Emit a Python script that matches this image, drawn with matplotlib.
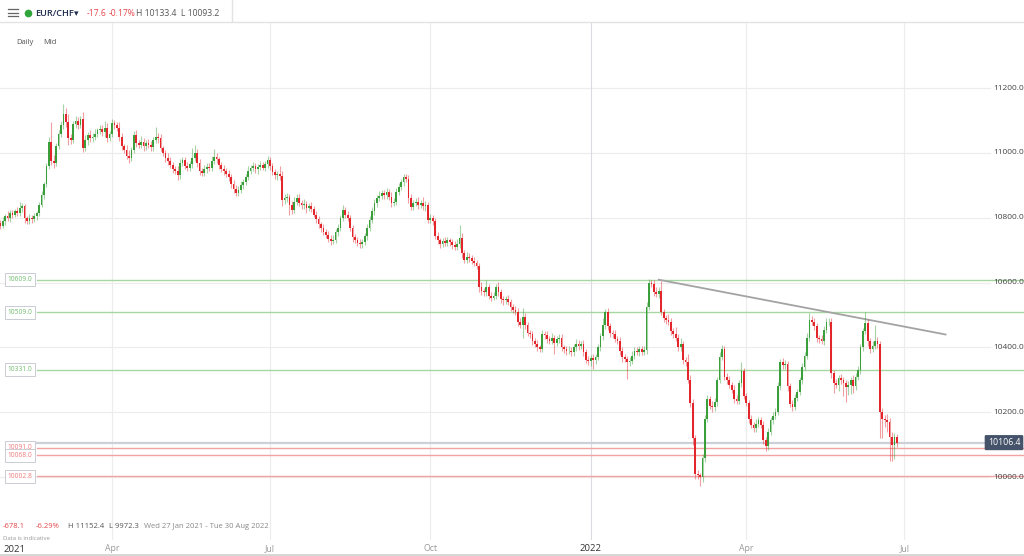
import matplotlib
matplotlib.use("Agg")
import matplotlib.pyplot as plt
from matplotlib.lines import Line2D
import numpy as np
import pandas as pd

plt.rcParams["font.family"] = ["Open Sans", "DejaVu Sans"]

W, H = 1024, 556

# EUR/CHF daily (mid), prices x10000
START = "2021-01-27"
first_open = 10784.5
closes = [
    10775, 10790, 10805, 10800, 10815, 10810, 10820, 10815, 10830, 10835,
    10800, 10790, 10800, 10795, 10805, 10815, 10840, 10870, 10905, 10960,
    11035, 10975, 10970, 11020, 11060, 11085, 11120, 11095, 11045, 11040,
    11090, 11100, 11085, 11105, 11015, 11040, 11055, 11045, 11050, 11060,
    11070, 11075, 11065, 11078, 11045, 11060, 11092, 11085, 11078, 11050,
    11020, 11010, 10990, 10985, 11010, 11055, 11030, 11025, 11035, 11020,
    11030, 11025, 11018, 11040, 11050, 11045, 11015, 11000, 10985, 10975,
    10963, 10950, 10945, 10932, 10970, 10978, 10960, 10955, 10965, 10985,
    11000, 10970, 10945, 10938, 10950, 10958, 10955, 10975, 10988, 10980,
    10963, 10950, 10945, 10935, 10925, 10905, 10890, 10877, 10885, 10900,
    10910, 10925, 10945, 10954, 10960, 10950, 10958, 10962, 10955, 10965,
    10978, 10960, 10940, 10932, 10935, 10928, 10855, 10860, 10865, 10840,
    10825, 10850, 10862, 10845, 10838, 10842, 10830, 10836, 10828, 10810,
    10795, 10780, 10770, 10755, 10748, 10735, 10728, 10732, 10755, 10770,
    10800, 10825, 10810, 10800, 10770, 10740, 10732, 10722, 10718, 10725,
    10745, 10770, 10794, 10820, 10846, 10860, 10868, 10876, 10870, 10880,
    10865, 10846, 10850, 10880, 10895, 10910, 10926, 10920, 10860, 10834,
    10845, 10849, 10840, 10845, 10835, 10840, 10794, 10800, 10790, 10745,
    10730, 10720, 10728, 10722, 10730, 10725, 10715, 10711, 10720, 10738,
    10690, 10670, 10680, 10675, 10668, 10660, 10650, 10585, 10575, 10570,
    10585, 10560, 10554, 10560, 10588, 10570, 10548, 10545, 10550, 10540,
    10525, 10517, 10510, 10480, 10470, 10495, 10470, 10445, 10440, 10420,
    10410, 10400, 10395, 10440, 10438, 10425, 10420, 10430, 10415, 10425,
    10430, 10400, 10394, 10388, 10390, 10385, 10400, 10412, 10405, 10410,
    10385, 10362, 10358, 10368, 10360, 10372, 10400, 10434, 10470, 10508,
    10465, 10445, 10440, 10425, 10420, 10390, 10370, 10365, 10354, 10358,
    10375, 10390, 10385, 10395, 10387, 10392, 10525, 10600, 10595, 10570,
    10565, 10575, 10508, 10490, 10486, 10480, 10450, 10440, 10430, 10400,
    10410, 10360, 10355, 10300, 10230, 10120, 10010, 10005, 10000, 10060,
    10180, 10240, 10220, 10215, 10232, 10300, 10370, 10394, 10310, 10300,
    10285, 10270, 10240, 10235, 10290, 10326, 10250, 10230, 10180, 10160,
    10150, 10165, 10175, 10160, 10115, 10095, 10140, 10175, 10190, 10200,
    10280, 10354, 10345, 10350, 10280, 10225, 10215, 10245, 10262, 10300,
    10340, 10375, 10430, 10486, 10480, 10465, 10430, 10425, 10420, 10455,
    10477, 10480, 10320, 10290, 10285, 10305, 10300, 10290, 10278, 10285,
    10300, 10280, 10310, 10330, 10400, 10450, 10475, 10420, 10395, 10405,
    10420, 10410, 10200, 10180, 10175, 10170, 10125, 10100, 10124, 10106.4,
]
# wick length above max(open, close) and below min(open, close)
up_wick = [
    8, 12, 6, 15, 9, 10, 7, 14, 18, 11,
    9, 6, 12, 8, 10, 7, 9, 12, 6, 10,
    14, 60, 20, 10, 12, 15, 32, 18, 25, 12,
    10, 15, 12, 8, 20, 14, 9, 16, 11, 13,
    8, 10, 12, 20, 15, 9, 14, 10, 12, 16,
    11, 8, 14, 20, 9, 12, 15, 10, 18, 12,
    9, 14, 11, 10, 30, 12, 15, 8, 10, 14,
    12, 9, 10, 16, 12, 8, 11, 13, 9, 30,
    25, 12, 10, 9, 14, 11, 10, 16, 24, 12,
    9, 10, 13, 8, 11, 9, 12, 10, 14, 12,
    10, 11, 15, 9, 12, 10, 8, 13, 11, 9,
    14, 10, 9, 12, 10, 25, 15, 12, 10, 9,
    11, 14, 10, 12, 9, 15, 10, 11, 13, 9,
    12, 10, 8, 11, 9, 10, 12, 14, 10, 11,
    10, 13, 9, 12, 10, 8, 11, 9, 12, 10,
    9, 11, 10, 13, 12, 9, 15, 11, 10, 12,
    9, 14, 10, 12, 11, 9, 10, 9, 12, 14,
    10, 12, 15, 9, 20, 11, 10, 12, 9, 10,
    12, 9, 10, 14, 11, 9, 10, 12, 14, 40,
    14, 10, 16, 12, 9, 10, 11, 12, 18, 9,
    22, 10, 11, 12, 9, 14, 10, 12, 9, 11,
    10, 9, 12, 11, 10, 28, 12, 10, 9, 11,
    10, 12, 9, 14, 11, 12, 10, 15, 9, 11,
    10, 12, 9, 11, 14, 10, 12, 15, 11, 10,
    12, 9, 11, 10, 13, 9, 10, 12, 20, 12,
    15, 11, 10, 14, 9, 12, 10, 11, 9, 12,
    14, 10, 12, 11, 9, 13, 14, 10, 9, 12,
    15, 10, 30, 12, 11, 18, 10, 9, 24, 12,
    20, 10, 12, 25, 14, 10, 9, 12, 8, 10,
    12, 14, 10, 16, 12, 10, 15, 14, 12, 10,
    11, 9, 14, 12, 10, 30, 12, 10, 9, 12,
    10, 14, 11, 9, 12, 10, 13, 11, 10, 12,
    14, 10, 12, 11, 9, 10, 14, 12, 11, 10,
    12, 10, 14, 20, 12, 10, 11, 9, 12, 10,
    15, 12, 10, 9, 12, 11, 14, 10, 9, 12,
    10, 14, 11, 12, 10, 9, 35, 12, 10, 14,
    50, 12, 10, 14, 12, 20, 11, 15, 12, 9.4,
]
dn_wick = [
    10, 8, 12, 9, 14, 10, 8, 11, 9, 12,
    15, 10, 8, 12, 9, 11, 10, 8, 12, 9,
    10, 12, 15, 10, 9, 12, 10, 14, 20, 12,
    10, 14, 11, 9, 12, 10, 15, 10, 12, 9,
    11, 10, 12, 15, 10, 9, 12, 11, 10, 14,
    12, 10, 9, 15, 11, 10, 12, 9, 10, 14,
    10, 9, 12, 11, 10, 13, 9, 10, 12, 11,
    9, 12, 10, 14, 11, 10, 9, 12, 10, 11,
    10, 12, 14, 9, 10, 12, 11, 10, 9, 12,
    11, 10, 12, 9, 10, 14, 12, 11, 10, 9,
    12, 10, 9, 11, 10, 12, 14, 10, 9, 11,
    10, 12, 9, 11, 14, 10, 20, 12, 10, 30,
    12, 10, 11, 9, 10, 12, 14, 10, 11, 9,
    12, 10, 14, 9, 11, 10, 12, 9, 10, 12,
    10, 11, 12, 9, 10, 14, 11, 9, 12, 10,
    9, 12, 10, 11, 10, 12, 9, 10, 11, 12,
    10, 12, 9, 10, 11, 9, 12, 10, 14, 11,
    10, 9, 12, 11, 10, 14, 10, 9, 12, 11,
    10, 12, 11, 9, 10, 12, 11, 10, 9, 12,
    14, 10, 9, 12, 11, 10, 9, 14, 12, 10,
    12, 11, 10, 9, 12, 10, 11, 14, 10, 9,
    12, 10, 11, 14, 9, 40, 12, 10, 11, 12,
    10, 12, 9, 10, 11, 12, 10, 9, 35, 12,
    10, 11, 12, 10, 9, 12, 11, 10, 12, 9,
    11, 10, 12, 14, 25, 10, 12, 11, 10, 12,
    10, 12, 11, 9, 10, 12, 14, 10, 50, 12,
    10, 11, 9, 12, 10, 11, 12, 10, 9, 12,
    10, 12, 9, 11, 14, 10, 12, 11, 10, 12,
    10, 11, 12, 9, 14, 20, 15, 12, 28, 14,
    12, 10, 11, 14, 10, 12, 9, 10, 11, 12,
    10, 12, 11, 10, 9, 12, 10, 11, 14, 10,
    12, 10, 11, 9, 12, 14, 10, 11, 12, 10,
    9, 12, 10, 11, 14, 10, 12, 9, 11, 10,
    12, 11, 10, 9, 12, 10, 14, 11, 10, 12,
    10, 12, 14, 30, 11, 20, 12, 40, 45, 25,
    30, 20, 12, 10, 11, 12, 10, 14, 12, 10,
    11, 12, 80, 60, 20, 30, 75, 50, 45, 13.2,
]

axis_prices = [10000, 10200, 10400, 10600, 10800, 11000, 11200]
month_dates = ["2021-04-01", "2021-07-01", "2021-10-01", "2022-01-03", "2022-04-01", "2022-07-01"]
month_labels = ["Apr", "Jul", "Oct", "2022", "Apr", "Jul"]

levels = [10609.0, 10509.0, 10331.0, 10091.0, 10068.0, 10002.8]
level_side = ["up", "up", "up", "down", "down", "down"]
last_price = 10106.4
trend_dates = ["2022-02-10", "2022-07-26"]
trend_prices = [10609.0, 10440.0]

GREEN, RED = "#3a9e3a", "#e3262b"
LVL_GREEN, LVL_RED = "#a6d7a0", "#f2a2a2"


def fx(x):
    return x / W


def fy(y):
    return 1 - y / H


fig = plt.figure(figsize=(W / 100, H / 100), dpi=100)
ax = fig.add_axes([0, fy(540), 1, (540 - 22) / H])
for s in ax.spines.values():
    s.set_visible(False)
ax.set_xticks([])
ax.set_yticks([])

closes = np.array(closes, dtype=float)
opens = np.r_[first_open, closes[:-1]]
hi = np.maximum(opens, closes) + np.array(up_wick)
lo = np.minimum(opens, closes) - np.array(dn_wick)
idx = np.arange(len(closes))
rise = closes >= opens

calendar = pd.bdate_range(START, periods=460)
month_pos = [calendar.searchsorted(pd.Timestamp(d)) for d in month_dates]
trend_pos = [calendar.searchsorted(pd.Timestamp(d)) for d in trend_dates]

# px per trading day ~2.43, axis runs to roughly end of August
ax.set_xlim(-0.1, 421.3)
ax.set_ylim(9806, 11404)

# grid
for p in axis_prices:
    ax.axhline(p, xmin=0, xmax=990 / W, color="#ececec", lw=0.8, zorder=0)
    ax.text(fx(993), p, f"{p:.1f}", transform=ax.get_yaxis_transform(),
            ha="left", va="center", fontsize=6, color="#444444")
for pos, lab in zip(month_pos, month_labels):
    ax.axvline(pos, color="#d9dbe0" if lab == "2022" else "#ececec", lw=0.8, zorder=0)

# support / resistance levels
for lv, side in zip(levels, level_side):
    c = LVL_GREEN if side == "up" else LVL_RED
    tc = "#6dbb6d" if side == "up" else "#ee7b7b"
    ax.axhline(lv, xmin=37 / W, xmax=1, color=c, lw=1.0, zorder=1)
    ax.text(fx(20), lv, f"{lv:.1f}", transform=ax.get_yaxis_transform(),
            ha="center", va="center", fontsize=4.8, color=tc, zorder=6,
            bbox=dict(boxstyle="square,pad=0.45", fc="white", ec="#c9cdd3", lw=0.7))

# last price line + tag
ax.axhline(last_price, xmin=37 / W, xmax=986 / W, color="#ccd0d8", lw=1.6, zorder=1)
ax.text(fx(1004), last_price, f"{last_price:.1f}", transform=ax.get_yaxis_transform(),
        ha="center", va="center", fontsize=6.3, color="white", zorder=7,
        bbox=dict(boxstyle="round,pad=0.35,rounding_size=0.15", fc="#45536a", ec="none"))

# trend line
ax.plot(trend_pos, trend_prices, color="#a3a3a3", lw=1.3, zorder=2)

# candles
col = np.where(rise, GREEN, RED)
ax.vlines(idx, lo, hi, colors=col, lw=0.8, alpha=0.45, zorder=3)
body_lo = np.minimum(opens, closes)
body_h = np.maximum(np.abs(closes - opens), 2.5)
ax.bar(idx, body_h, bottom=body_lo, width=0.72, color=col, lw=0, zorder=4)

# header bar
fig.add_artist(Line2D([0, 1], [fy(22), fy(22)], transform=fig.transFigure, color="#e3e3e3", lw=1))
fig.add_artist(Line2D([fx(232), fx(232)], [fy(0), fy(21)], transform=fig.transFigure, color="#e3e3e3", lw=1))
for yy in (9, 12.5, 16):
    fig.add_artist(Line2D([fx(8), fx(18)], [fy(yy), fy(yy)], transform=fig.transFigure,
                          color="#666666", lw=0.9))
fig.add_artist(Line2D([fx(28)], [fy(13)], transform=fig.transFigure, marker="o",
                      ms=4.5, color="#2ea43a", lw=0))
fig.text(fx(35), fy(13), "EUR/CHF", fontsize=6.6, fontweight="semibold", color="#1f2e4f", va="center")
fig.text(fx(74), fy(13.5), "▾", fontsize=6.5, color="#1f2e4f", va="center",
         family=["DejaVu Sans"])
fig.text(fx(87), fy(13), "-17.6", fontsize=6.2, color="#e5484d", va="center")
fig.text(fx(109), fy(13), "-0.17%", fontsize=6.2, color="#e5484d", va="center")
fig.text(fx(136), fy(13), "H 10133.4  L 10093.2", fontsize=6.2, color="#555555", va="center")
fig.text(fx(16), fy(43), "Daily", fontsize=5.5, color="#555555", va="center")
fig.text(fx(43), fy(43), "Mid", fontsize=5.5, color="#555555", va="center")

# footer stats
fig.text(fx(3), fy(526), "-678.1", fontsize=5.5, color="#e5484d", va="center")
fig.text(fx(36), fy(526), "-6.29%", fontsize=5.5, color="#e5484d", va="center")
fig.text(fx(68), fy(526), "H 11152.4", fontsize=5.5, color="#555555", va="center")
fig.text(fx(109), fy(526), "L 9972.3", fontsize=5.5, color="#555555", va="center")
fig.text(fx(144), fy(526), "Wed 27 Jan 2021 - Tue 30 Aug 2022", fontsize=5.5, color="#888888", va="center")
fig.text(fx(3), fy(538), "Data is indicative", fontsize=4.3, color="#999999", va="center")

# x labels
fig.text(fx(3), fy(549), "2021", fontsize=6.8, color="#333333", va="center")
for pos, lab in zip(month_pos, month_labels):
    ax.text(pos, -0.017, lab, transform=ax.get_xaxis_transform(), ha="center", va="center",
            fontsize=6.8 if lab == "2022" else 6.3,
            color="#333333" if lab == "2022" else "#9a9a9a")
fig.add_artist(Line2D([0, 1], [fy(554.5), fy(554.5)], transform=fig.transFigure, color="#cfcfcf", lw=1.2))

fig.savefig("out.png", dpi=100)
